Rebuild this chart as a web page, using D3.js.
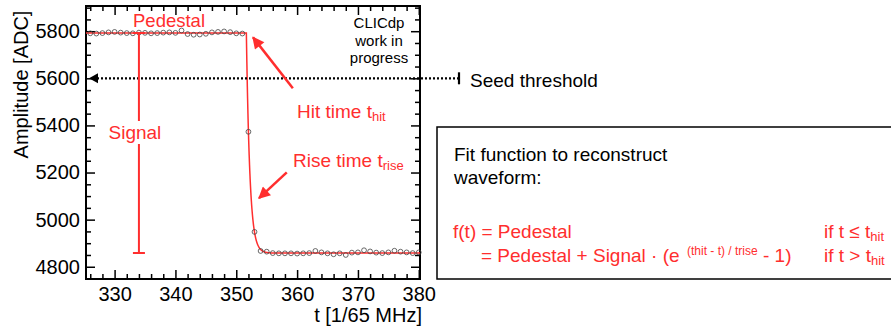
<!DOCTYPE html>
<html>
<head>
<meta charset="utf-8">
<script src="https://cdn.jsdelivr.net/npm/d3@7"></script>
<style>
  body { margin: 0; background: #fff; }
  text { font-family: "Liberation Sans", Arial, Helvetica, sans-serif; }
</style>
</head>
<body>
<svg width="891" height="329"></svg>
<script>
// sampled waveform (t in units of 1/65 MHz)
const times = [326,327,328,329,330,331,332,333,334,335,336,337,338,339,340,341,342,343,344,345,
  346,347,348,349,350,351,352,353,354,355,356,357,358,359,360,361,362,363,364,365,
  366,367,368,369,370,371,372,373,374,375,376,377,378,379,380];
const amplitudes = [5791,5790,5792,5795,5797,5794,5792,5791,5794,5793,5791,5792,5794,5795,5793,5803,5788,5785,5786,5789,
  5795,5797,5799,5796,5791,5790,5373,4948,4867,4864,4858,4857,4857,4857,4856,4857,4858,4867,4861,4857,
  4853,4857,4850,4860,4861,4870,4865,4860,4858,4861,4868,4864,4861,4858,4861];
const xTicks = [330, 340, 350, 360, 370, 380];
const yTicks = [4800, 5000, 5200, 5400, 5600, 5800];

// fit parameters
const pedestal = 5792;
const signal = 934;
const tHit = 351.66;
const tRise = 0.57;
const seedThreshold = 5600;
const signalAt = 334;

const red = "#ff2e2e";
const svg = d3.select("svg");
const margin = {left: 86, right: 420, top: 6, bottom: 279};

const x = d3.scaleLinear().domain([325.3, 380.2]).range([margin.left, margin.right]);
const y = d3.scaleLinear().domain([4748, 5907]).range([margin.bottom, margin.top]);

const fit = t => t <= tHit ? pedestal : pedestal + signal * (Math.exp((tHit - t) / tRise) - 1);

// axes: major + minor, ticks pointing inward
const xMinor = d3.range(326, 381, 2).filter(v => xTicks.indexOf(v) < 0);
const yMinor = d3.range(4750, 5901, 50).filter(v => yTicks.indexOf(v) < 0);

function axisGroup(axis, tr) {
  const g = svg.append("g").attr("transform", tr).call(axis);
  g.select(".domain").remove();
  g.selectAll(".tick line").attr("stroke", "#000").attr("stroke-width", 1.5);
  g.selectAll("text").attr("font-size", 20).attr("fill", "#000").style("font-family", null);
  return g;
}

const fmt = d3.format("d");
axisGroup(d3.axisBottom(x).tickValues(xTicks).tickSize(-9).tickPadding(8).tickFormat(fmt), `translate(0,${margin.bottom})`);
axisGroup(d3.axisBottom(x).tickValues(xMinor).tickSize(-5).tickFormat(""), `translate(0,${margin.bottom})`);
axisGroup(d3.axisTop(x).tickValues(xTicks).tickSize(-9).tickFormat(""), `translate(0,${margin.top})`);
axisGroup(d3.axisTop(x).tickValues(xMinor).tickSize(-5).tickFormat(""), `translate(0,${margin.top})`);
axisGroup(d3.axisLeft(y).tickValues(yTicks).tickSize(-9).tickPadding(6).tickFormat(fmt), `translate(${margin.left},0)`);
axisGroup(d3.axisLeft(y).tickValues(yMinor).tickSize(-5).tickFormat(""), `translate(${margin.left},0)`);
axisGroup(d3.axisRight(y).tickValues(yTicks).tickSize(-9).tickFormat(""), `translate(${margin.right},0)`);
axisGroup(d3.axisRight(y).tickValues(yMinor).tickSize(-5).tickFormat(""), `translate(${margin.right},0)`);

svg.append("rect")
  .attr("x", margin.left).attr("y", margin.top)
  .attr("width", margin.right - margin.left).attr("height", margin.bottom - margin.top)
  .attr("fill", "none").attr("stroke", "#000").attr("stroke-width", 2);

// axis titles
svg.append("text")
  .attr("transform", `translate(28,${(margin.top + margin.bottom) / 2 - 58}) rotate(-90)`)
  .attr("text-anchor", "middle").attr("font-size", 20)
  .text("Amplitude [ADC]");
svg.append("text")
  .attr("x", 422).attr("y", 322).attr("text-anchor", "end").attr("font-size", 20)
  .text("t [1/65 MHz]");

// fit curve
const fitPts = [];
for (let t = x.domain()[0]; t <= x.domain()[1]; t += 0.02) fitPts.push([t, fit(t)]);
svg.append("path")
  .datum(fitPts)
  .attr("d", d3.line().x(d => x(d[0])).y(d => y(d[1])))
  .attr("fill", "none").attr("stroke", red).attr("stroke-width", 1.5);

// data points
svg.append("g").selectAll("circle")
  .data(times)
  .join("circle")
  .attr("cx", d => x(d))
  .attr("cy", (d, i) => y(amplitudes[i]))
  .attr("r", 2.4)
  .attr("fill", "none").attr("stroke", "#444").attr("stroke-width", 0.8);

// seed threshold
const defs = svg.append("defs");
defs.append("marker").attr("id", "arrRed")
  .attr("viewBox", "0 0 10 10").attr("refX", 9).attr("refY", 5)
  .attr("markerUnits", "userSpaceOnUse").attr("markerWidth", 14).attr("markerHeight", 12)
  .attr("orient", "auto")
  .append("path").attr("d", "M0,0L10,5L0,10Z").attr("fill", red);

const ySeed = y(seedThreshold);
svg.append("line")
  .attr("x1", 97).attr("x2", 459).attr("y1", ySeed).attr("y2", ySeed)
  .attr("stroke", "#000").attr("stroke-width", 2.2).attr("stroke-dasharray", "2,2");
svg.append("path")
  .attr("d", `M89,${ySeed}L98,${ySeed - 5}L98,${ySeed + 5}Z`).attr("fill", "#000");
svg.append("line")
  .attr("x1", 459).attr("x2", 459).attr("y1", ySeed - 6).attr("y2", ySeed + 6)
  .attr("stroke", "#000").attr("stroke-width", 2.2);
svg.append("text").attr("x", 470).attr("y", ySeed + 9).attr("font-size", 19)
  .text("Seed threshold");

// signal bar
const xs = x(signalAt);
const yTop = y(pedestal), yBot = y(pedestal - signal);
svg.append("path")
  .attr("d", `M${xs - 6},${yTop}H${xs + 6}M${xs},${yTop}V${yTop + 88}M${xs},${yTop + 111}V${yBot}M${xs - 6},${yBot}H${xs + 6}`)
  .attr("fill", "none").attr("stroke", red).attr("stroke-width", 2);
svg.append("text").attr("x", xs - 4).attr("y", 139).attr("text-anchor", "middle")
  .attr("font-size", 19).attr("fill", red).text("Signal");

svg.append("text").attr("x", 169).attr("y", 27).attr("text-anchor", "middle")
  .attr("font-size", 18.5).attr("fill", red).text("Pedestal");

// hit time / rise time arrows
svg.append("line")
  .attr("x1", x(359.3)).attr("y1", y(5558)).attr("x2", x(352.75)).attr("y2", y(5774))
  .attr("stroke", red).attr("stroke-width", 2.5).attr("marker-end", "url(#arrRed)");
svg.append("line")
  .attr("x1", x(358.3)).attr("y1", y(5201)).attr("x2", x(353.74)).attr("y2", y(5091))
  .attr("stroke", red).attr("stroke-width", 2.5).attr("marker-end", "url(#arrRed)");

const hit = svg.append("text").attr("x", 297).attr("y", 118).attr("font-size", 19).attr("fill", red);
hit.append("tspan").text("Hit time t");
hit.append("tspan").attr("font-size", 13).attr("dy", 3).text("hit");

const rise = svg.append("text").attr("x", 293).attr("y", 167).attr("font-size", 19).attr("fill", red);
rise.append("tspan").text("Rise time t");
rise.append("tspan").attr("font-size", 13).attr("dy", 3).text("rise");

// watermark
const wm = svg.append("text").attr("text-anchor", "middle").attr("font-size", 15);
["CLICdp", "work in", "progress"].forEach((s, i) =>
  wm.append("tspan").attr("x", 379).attr("y", 28 + i * 17.5).text(s));

// fit function box
svg.append("rect").attr("x", 437).attr("y", 127).attr("width", 470).attr("height", 152)
  .attr("fill", "none").attr("stroke", "#000").attr("stroke-width", 1.5);
svg.append("text").attr("x", 454).attr("y", 161).attr("font-size", 19).text("Fit function to reconstruct");
svg.append("text").attr("x", 454).attr("y", 184).attr("font-size", 19).text("waveform:");

svg.append("text").attr("x", 453).attr("y", 238).attr("font-size", 19).attr("fill", red).text("f(t) = Pedestal");
const l2 = svg.append("text").attr("x", 481).attr("y", 262).attr("font-size", 19).attr("fill", red);
l2.append("tspan").text("= Pedestal + Signal \u00b7 (e");
l2.append("tspan").attr("x", 687).attr("dy", -7).attr("font-size", 12).text("(thit - t) / trise");
l2.append("tspan").attr("x", 763).attr("dy", 7).text("- 1)");

[["if t \u2264 t", 238], ["if t > t", 262]].forEach(([s, yy]) => {
  const t = svg.append("text").attr("x", 824).attr("y", yy).attr("font-size", 19).attr("fill", red);
  t.append("tspan").text(s);
  t.append("tspan").attr("font-size", 13).attr("dy", 3).text("hit");
});
</script>
</body>
</html>
